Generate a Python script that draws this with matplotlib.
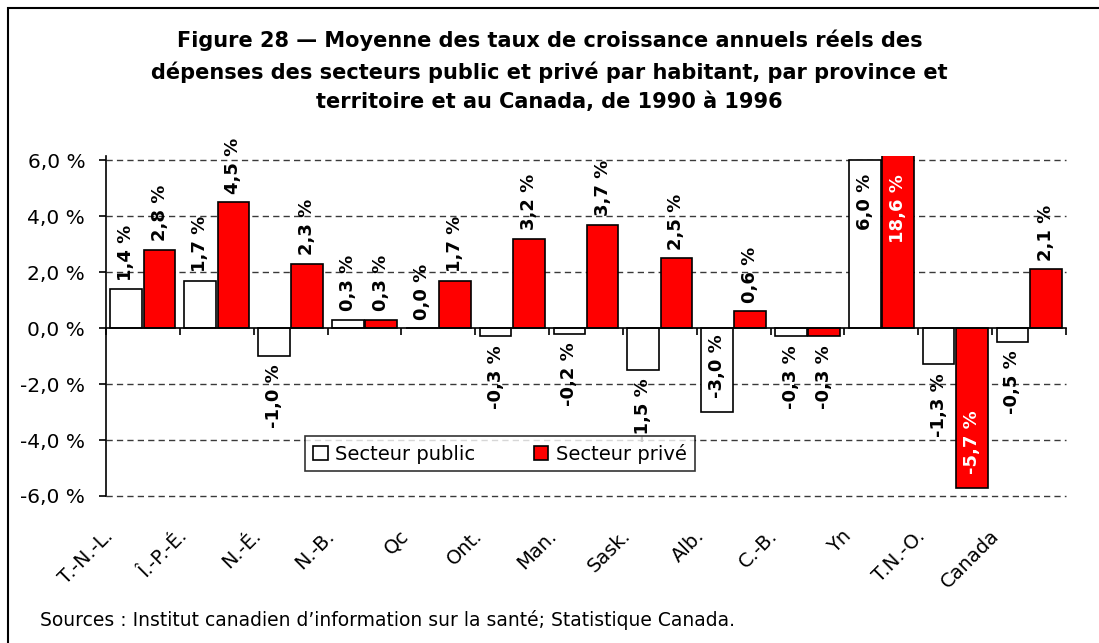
import numpy as np
import matplotlib
matplotlib.use("Agg")
import matplotlib.pyplot as plt
import matplotlib.transforms as mtransforms
from matplotlib.patches import Rectangle
from matplotlib.ticker import FuncFormatter, FixedLocator

# Data
categories = ["T.-N.-L.", "Î.-P.-É.", "N.-É.", "N.-B.", "Qc", "Ont.", "Man.",
              "Sask.", "Alb.", "C.-B.", "Yn", "T.N.-O.", "Canada"]
public = [1.4, 1.7, -1.0, 0.3, 0.0, -0.3, -0.2, -1.5, -3.0, -0.3, 6.0, -1.3, -0.5]
private = [2.8, 4.5, 2.3, 0.3, 1.7, 3.2, 3.7, 2.5, 0.6, -0.3, 18.6, -5.7, 2.1]

# labels drawn inside the bar end instead of outside
inside_public = {"Alb.", "Yn"}
inside_private = {"Yn", "T.N.-O."}

plt.rcParams['font.family'] = ['DejaVu Sans']

fig = plt.figure(figsize=(10.99, 6.43), dpi=100)
W, H = 1099, 643
ax = fig.add_axes([106 / W, 1 - 496 / H, 960 / W, 340 / H])

ymax = 6.15
ax.set_ylim(-6, ymax)
ax.set_xlim(-0.5, len(categories) - 0.5)

x = np.arange(len(categories))
bw = 0.43
off = 0.225
ax.bar(x - off, public, bw, color='white', edgecolor='black', linewidth=1.2,
       label='Secteur public', zorder=3)
ax.bar(x + off, private, bw, color='#ff0000', edgecolor='black', linewidth=1.2,
       label='Secteur privé', zorder=3)

# grid
for yv in [-6, -4, -2, 2, 4, 6]:
    ax.axhline(yv, color='#3a3a3a', linestyle=(0, (4.5, 3)), linewidth=1.0,
               zorder=1, clip_on=False)

# spines
for s in ['top', 'right']:
    ax.spines[s].set_visible(False)
ax.spines['left'].set_linewidth(1.2)
ax.spines['bottom'].set_position(('data', 0))
ax.spines['bottom'].set_linewidth(1.2)
ax.spines['bottom'].set_zorder(4)

ax.set_yticks([-6, -4, -2, 0, 2, 4, 6])
ax.yaxis.set_major_formatter(FuncFormatter(lambda v, p: f"{v:.1f} %".replace('.', ',')))
ax.tick_params(axis='y', length=5, width=1.2, pad=10, labelsize=14.5)

ax.xaxis.set_major_locator(FixedLocator([]))
ax.xaxis.set_minor_locator(FixedLocator(np.arange(len(categories) + 1) - 0.5))
ax.tick_params(axis='x', which='minor', length=5, width=1.2, direction='out')

# category labels below the plot
trans = mtransforms.blended_transform_factory(ax.transData, ax.transAxes) + \
    mtransforms.ScaledTranslation(-26 / 100, -30 / 100, fig.dpi_scale_trans)
for i, c in enumerate(categories):
    ax.text(i, 0, c, transform=trans, rotation=45, ha='right', va='top',
            fontsize=14)


def fmt(v):
    return f"{v:.1f} %".replace('.', ',')


def put_label(xpos, v, inside, color):
    yv = min(v, 6.0)
    if inside:
        dy = -10 if v >= 0 else 10
        va = 'top' if v >= 0 else 'bottom'
    else:
        dy = 6 if v >= 0 else -6
        va = 'bottom' if v >= 0 else 'top'
    ax.annotate(fmt(v), (xpos, yv), xytext=(0, dy), textcoords='offset points',
                rotation=90, ha='center', va=va, fontsize=13,
                fontweight='bold', color=color, zorder=5)


for i, c in enumerate(categories):
    put_label(i - off, public[i], c in inside_public, 'black')
    ins = c in inside_private
    put_label(i + off, private[i], ins, 'white' if ins else 'black')

leg = ax.legend(loc='center', bbox_to_anchor=((500 - 106) / 960, (496 - 453.5) / 340),
                ncol=2, fontsize=14, frameon=True, fancybox=False,
                handlelength=0.75, handleheight=0.75, handletextpad=0.4,
                columnspacing=3.0, borderpad=0.4, borderaxespad=0)
leg.get_frame().set_edgecolor('black')
leg.get_frame().set_linewidth(1.2)
leg.set_zorder(10)

# title
fig.text(0.5, 1 - 71 / H,
         "Figure 28 — Moyenne des taux de croissance annuels réels des\n"
         "dépenses des secteurs public et privé par habitant, par province et\n"
         "territoire et au Canada, de 1990 à 1996",
         ha='center', va='center', fontsize=15, fontweight='bold', linespacing=1.55)

# source
fig.text(40 / W, 1 - 620 / H,
         "Sources : Institut canadien d’information sur la santé; Statistique Canada.",
         ha='left', va='center', fontsize=13.5)

# outer frame (cropped on right and bottom)
fig.patches.append(Rectangle((8 / W, -0.1), 1.2, 1 - 8 / H + 0.1,
                             transform=fig.transFigure, fill=False,
                             edgecolor='black', linewidth=1.5))

fig.savefig("out.png", dpi=100)
